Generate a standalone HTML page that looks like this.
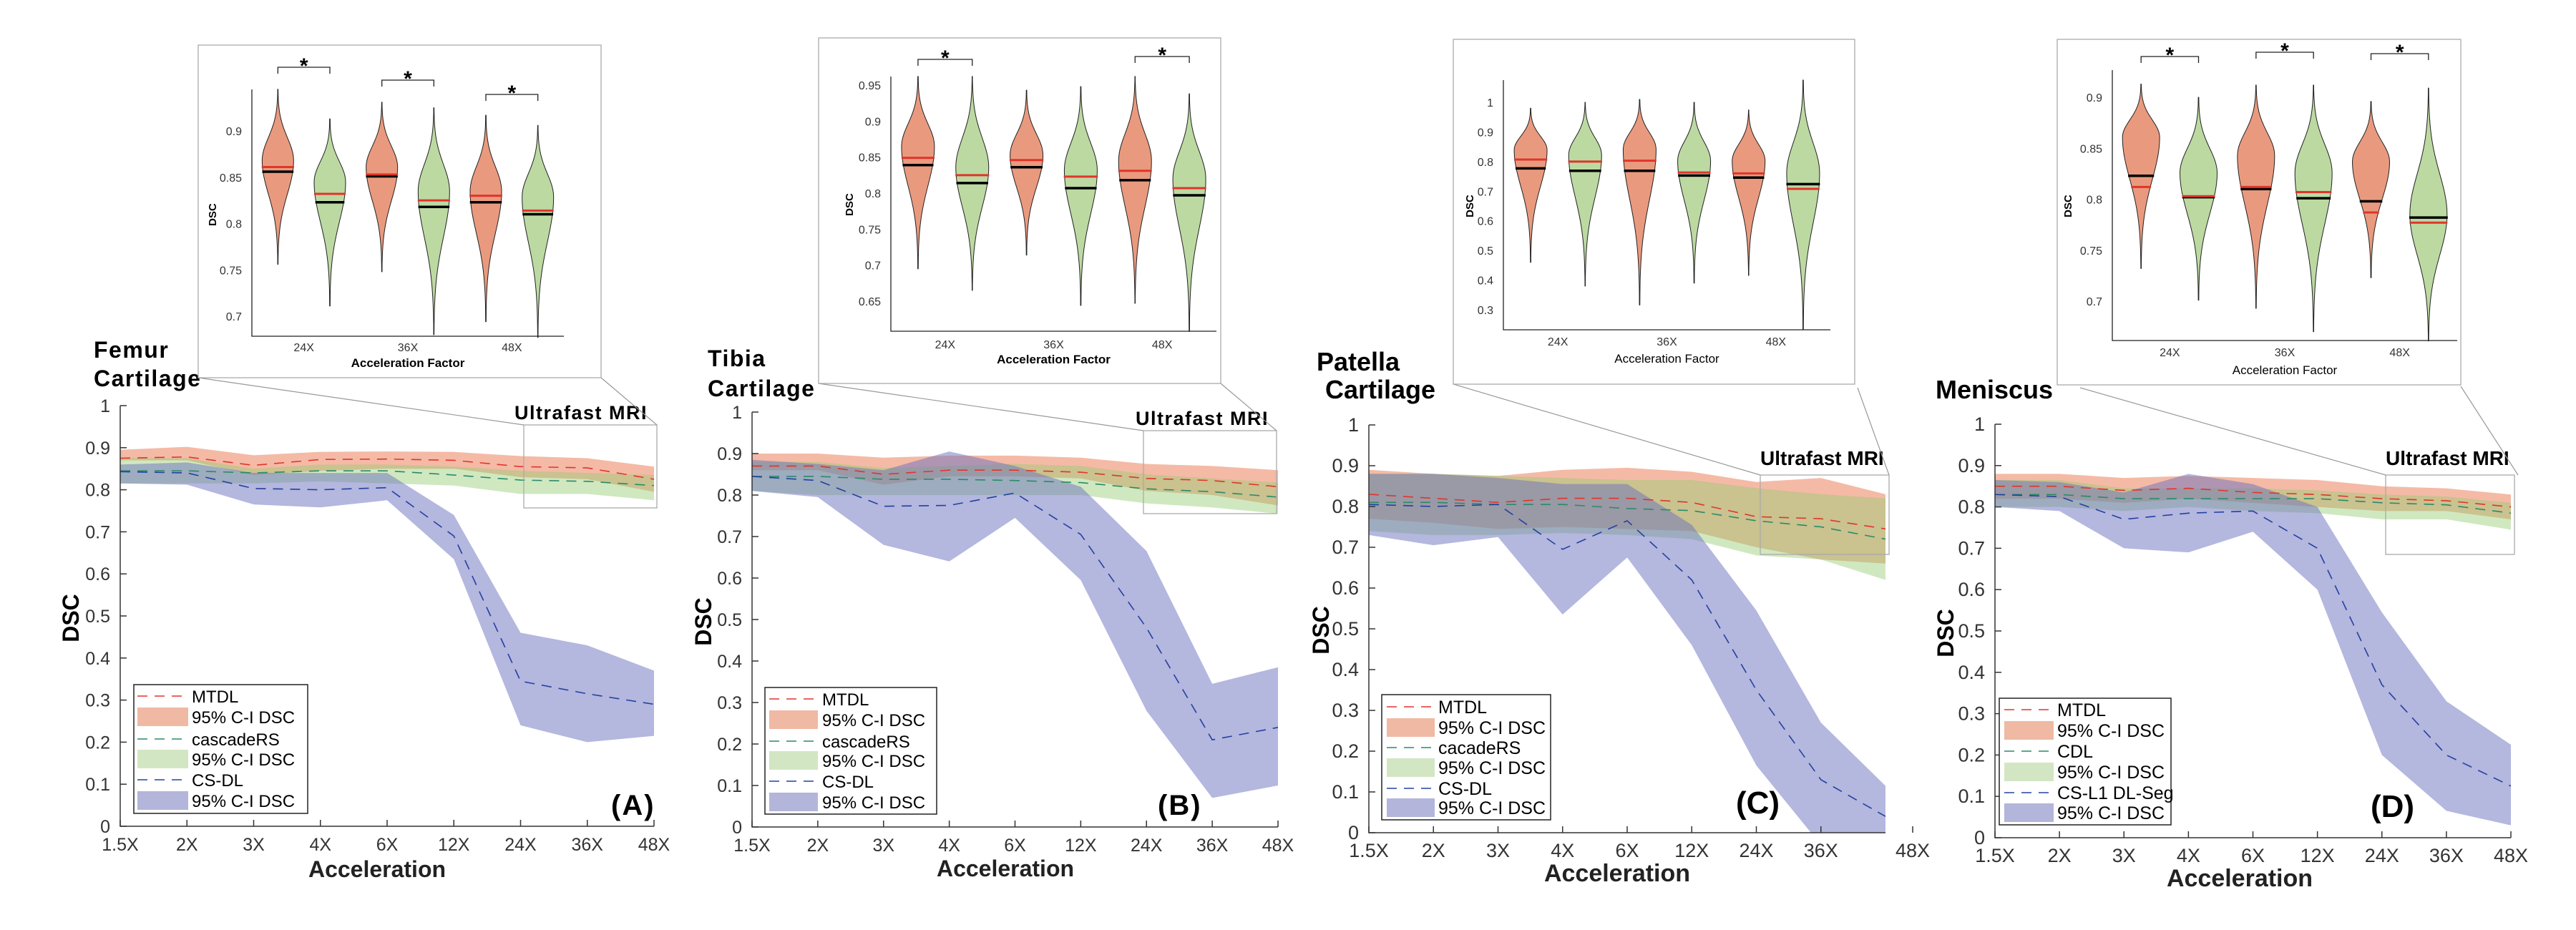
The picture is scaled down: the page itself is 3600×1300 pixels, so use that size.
<!DOCTYPE html>
<html><head><meta charset="utf-8"><style>
html,body{margin:0;padding:0;background:#fff}
svg{display:block}
text{font-family:"Liberation Sans",sans-serif}
.n text, text.n{font-family:"Liberation Sans Narrow","Liberation Sans",sans-serif}
</style></head>
<body>
<svg id="fig" xmlns="http://www.w3.org/2000/svg" width="3600" height="1300" viewBox="0 0 3600 1300"></svg>
<script>
// ---------- data ----------
const categories = ['1.5X','2X','3X','4X','6X','12X','24X','36X','48X'];
const yTickValues = [0,0.1,0.2,0.3,0.4,0.5,0.6,0.7,0.8,0.9,1];
const yTickLabels = ['0','0.1','0.2','0.3','0.4','0.5','0.6','0.7','0.8','0.9','1'];
const insetCategories = ['24X','36X','48X'];

// Femur
const femurMtdl   = [0.875,0.878,0.858,0.872,0.873,0.870,0.855,0.852,0.825];
const femurMtdlHi = [0.895,0.902,0.882,0.890,0.891,0.890,0.880,0.875,0.855];
const femurMtdlLo = [0.870,0.870,0.835,0.845,0.850,0.850,0.830,0.825,0.795];
const femurCasc   = [0.845,0.845,0.840,0.845,0.845,0.835,0.823,0.820,0.810];
const femurCascHi = [0.875,0.875,0.850,0.860,0.860,0.855,0.845,0.840,0.835];
const femurCascLo = [0.815,0.815,0.815,0.820,0.815,0.810,0.790,0.790,0.775];
const femurCs     = [0.843,0.840,0.803,0.800,0.805,0.690,0.345,0.315,0.290];
const femurCsHi   = [0.860,0.865,0.840,0.840,0.840,0.740,0.460,0.430,0.370];
const femurCsLo   = [0.815,0.812,0.765,0.758,0.775,0.635,0.240,0.200,0.215];
// Tibia
const tibiaMtdl   = [0.870,0.870,0.850,0.860,0.860,0.855,0.840,0.835,0.820];
const tibiaMtdlHi = [0.900,0.900,0.890,0.895,0.895,0.890,0.875,0.870,0.860];
const tibiaMtdlLo = [0.860,0.860,0.825,0.845,0.845,0.840,0.810,0.800,0.775];
const tibiaCasc   = [0.845,0.845,0.838,0.838,0.835,0.830,0.815,0.808,0.795];
const tibiaCascHi = [0.880,0.880,0.865,0.870,0.875,0.870,0.850,0.840,0.830];
const tibiaCascLo = [0.810,0.800,0.800,0.800,0.800,0.800,0.780,0.770,0.755];
const tibiaCs     = [0.845,0.835,0.773,0.775,0.805,0.705,0.480,0.210,0.240];
const tibiaCsHi   = [0.885,0.875,0.860,0.905,0.870,0.820,0.665,0.345,0.385];
const tibiaCsLo   = [0.810,0.795,0.680,0.640,0.745,0.595,0.280,0.070,0.100];
// Patella
const patellaMtdl   = [0.830,0.820,0.810,0.820,0.820,0.810,0.775,0.770,0.745];
const patellaMtdlHi = [0.890,0.880,0.875,0.890,0.895,0.885,0.860,0.870,0.830];
const patellaMtdlLo = [0.770,0.760,0.745,0.750,0.745,0.740,0.700,0.670,0.660];
const patellaCasc   = [0.810,0.810,0.805,0.805,0.795,0.790,0.765,0.750,0.720];
const patellaCascHi = [0.880,0.880,0.875,0.870,0.865,0.865,0.845,0.830,0.820];
const patellaCascLo = [0.740,0.730,0.730,0.735,0.730,0.720,0.680,0.670,0.620];
const patellaCs     = [0.805,0.800,0.805,0.695,0.765,0.620,0.350,0.130,0.040];
const patellaCsHi   = [0.880,0.880,0.870,0.855,0.855,0.755,0.545,0.270,0.115];
const patellaCsLo   = [0.730,0.705,0.725,0.535,0.675,0.460,0.165,-0.030,-0.050];
// Meniscus
const meniscusMtdl   = [0.850,0.850,0.840,0.845,0.835,0.830,0.820,0.815,0.800];
const meniscusMtdlHi = [0.880,0.880,0.870,0.875,0.870,0.865,0.850,0.845,0.830];
const meniscusMtdlLo = [0.820,0.820,0.810,0.820,0.810,0.800,0.790,0.790,0.770];
const meniscusCdl    = [0.830,0.830,0.820,0.820,0.820,0.820,0.810,0.805,0.785];
const meniscusCdlHi  = [0.865,0.865,0.845,0.845,0.845,0.840,0.830,0.825,0.810];
const meniscusCdlLo  = [0.800,0.800,0.790,0.800,0.790,0.785,0.770,0.770,0.745];
const meniscusCs     = [0.830,0.825,0.770,0.785,0.790,0.700,0.370,0.200,0.125];
const meniscusCsHi   = [0.865,0.860,0.835,0.880,0.855,0.800,0.545,0.330,0.225];
const meniscusCsLo   = [0.800,0.790,0.700,0.690,0.740,0.600,0.200,0.065,0.030];

// Inset violins (order: MTDL 24X, other 24X, MTDL 36X, other 36X, MTDL 48X, other 48X)
const femurVioMax    = [0.945,0.913,0.931,0.925,0.917,0.906];
const femurVioMin    = [0.756,0.711,0.748,0.680,0.694,0.677];
const femurVioMode   = [0.868,0.845,0.861,0.835,0.835,0.829];
const femurVioMean   = [0.861,0.832,0.853,0.825,0.830,0.814];
const femurVioMedian = [0.856,0.823,0.851,0.818,0.823,0.810];
const tibiaVioMax    = [0.962,0.962,0.943,0.948,0.962,0.938];
const tibiaVioMin    = [0.695,0.665,0.714,0.644,0.647,0.608];
const tibiaVioMode   = [0.865,0.836,0.853,0.832,0.845,0.820];
const tibiaVioMean   = [0.849,0.825,0.846,0.823,0.831,0.807];
const tibiaVioMedian = [0.839,0.814,0.836,0.807,0.818,0.797];
const patellaVioMax    = [0.980,1.000,1.010,1.000,0.974,1.075];
const patellaVioMin    = [0.460,0.380,0.316,0.390,0.416,0.233];
const patellaVioMode   = [0.840,0.823,0.843,0.803,0.803,0.762];
const patellaVioMean   = [0.807,0.800,0.803,0.763,0.760,0.708];
const patellaVioMedian = [0.777,0.769,0.769,0.753,0.746,0.724];
const meniscusVioMax    = [0.913,0.900,0.912,0.912,0.896,0.909];
const meniscusVioMin    = [0.732,0.701,0.693,0.670,0.723,0.661];
const meniscusVioMode   = [0.861,0.826,0.843,0.826,0.837,0.785];
const meniscusVioMean   = [0.812,0.803,0.812,0.807,0.787,0.777];
const meniscusVioMedian = [0.823,0.802,0.810,0.801,0.798,0.782];

// ---------- layout ----------
const panels = [
 {key:'femur', narrow:false, x0:168,x1:914,yb:1155,yt:567, axEnd:914, lastTick:914,
  title:['Femur','Cartilage'], tX:[131,131], tY:[500,540], tSize:32,
  letter:'(A)', lX:854, lY:1139, ylX:99, ylY:864, xlX:527, xlY:1226, ulX:719, ulY:586,
  zoom:[732,594,918,710], conn:[[277,528,732,594],[840,528,918,594]],
  names:['MTDL','cascadeRS','CS-DL'],
  d:[femurMtdl,femurMtdlHi,femurMtdlLo,femurCasc,femurCascHi,femurCascLo,femurCs,femurCsHi,femurCsLo],
  leg:{x:187,y:957,w:243,h:180,rows:[973,1002,1033,1061,1090,1119],sx:192,sw:71,tx:268,fs:24},
  ins:{bx:277,by:63,bw:563,bh:465,ax0:352,ax1:788,ayb:470,ayt:125,v1:0.7,p1:442,v2:0.9,p2:183,
   ticks:[0.7,0.75,0.8,0.85,0.9],tl:['0.7','0.75','0.8','0.85','0.9'],lbY:491,afY:513,dX:297,dY:300,hw:22,
   br:[[0,94],[1,112],[2,132]],
   v:[femurVioMax,femurVioMin,femurVioMode,femurVioMean,femurVioMedian]}},
 {key:'tibia', narrow:false, x0:1051,x1:1786,yb:1156,yt:576, axEnd:1786, lastTick:1786,
  title:['Tibia','Cartilage'], tX:[989,989], tY:[512,554], tSize:32,
  letter:'(B)', lX:1618, lY:1139, ylX:983, ylY:869, xlX:1405, xlY:1225, ulX:1587, ulY:594,
  zoom:[1598,602,1784,718], conn:[[1144,536,1598,602],[1706,536,1784,602]],
  names:['MTDL','cascadeRS','CS-DL'],
  d:[tibiaMtdl,tibiaMtdlHi,tibiaMtdlLo,tibiaCasc,tibiaCascHi,tibiaCascLo,tibiaCs,tibiaCsHi,tibiaCsLo],
  leg:{x:1069,y:961,w:240,h:177,rows:[977,1006,1036,1063,1092,1121],sx:1075,sw:68,tx:1149,fs:24},
  ins:{bx:1144,by:53,bw:562,bh:483,ax0:1245,ax1:1700,ayb:463,ayt:107,v1:0.65,p1:421,v2:0.95,p2:119,
   ticks:[0.65,0.7,0.75,0.8,0.85,0.9,0.95],tl:['0.65','0.7','0.75','0.8','0.85','0.9','0.95'],lbY:487,afY:508,dX:1187,dY:286,hw:23,
   br:[[0,83],[2,79]],
   v:[tibiaVioMax,tibiaVioMin,tibiaVioMode,tibiaVioMean,tibiaVioMedian]}},
 {key:'patella', narrow:true, x0:1913,x1:2635,yb:1164,yt:594, axEnd:2635, lastTick:2673,
  title:['Patella','Cartilage'], tX:[1840,1852], tY:[518,557], tSize:36,
  letter:'(C)', lX:2426, lY:1137, ylX:1846, ylY:881, xlX:2260, xlY:1232, ulX:2460, ulY:650,
  zoom:[2460,664,2640,775], conn:[[2031,537,2460,664],[2596,542,2640,664]],
  names:['MTDL','cacadeRS','CS-DL'],
  d:[patellaMtdl,patellaMtdlHi,patellaMtdlLo,patellaCasc,patellaCascHi,patellaCascLo,patellaCs,patellaCsHi,patellaCsLo],
  leg:{x:1931,y:971,w:236,h:175,rows:[988,1017,1045,1073,1102,1129],sx:1938,sw:67,tx:2010,fs:25},
  ins:{bx:2031,by:55,bw:561,bh:482,ax0:2101,ax1:2558,ayb:461,ayt:112,v1:0.3,p1:433,v2:1.0,p2:143,
   ticks:[0.3,0.4,0.5,0.6,0.7,0.8,0.9,1],tl:['0.3','0.4','0.5','0.6','0.7','0.8','0.9','1'],lbY:483,afY:507,dX:2054,dY:288,hw:23,
   br:[],
   v:[patellaVioMax,patellaVioMin,patellaVioMode,patellaVioMean,patellaVioMedian]}},
 {key:'meniscus', narrow:true, x0:2788,x1:3509,yb:1171,yt:593, axEnd:3509, lastTick:3509,
  title:['Meniscus'], tX:[2705], tY:[557], tSize:36,
  letter:'(D)', lX:3313, lY:1142, ylX:2719, ylY:885, xlX:3130, xlY:1239, ulX:3334, ulY:650,
  zoom:[3334,664,3514,775], conn:[[2907,542,3334,664],[3439,540,3519,664]],
  names:['MTDL','CDL','CS-L1 DL-Seg'],
  d:[meniscusMtdl,meniscusMtdlHi,meniscusMtdlLo,meniscusCdl,meniscusCdlHi,meniscusCdlLo,meniscusCs,meniscusCsHi,meniscusCsLo],
  leg:{x:2794,y:976,w:240,h:177,rows:[992,1021,1050,1079,1108,1136],sx:2801,sw:69,tx:2875,fs:25},
  ins:{bx:2875,by:55,bw:564,bh:483,ax0:2952,ax1:3434,ayb:476,ayt:98,v1:0.7,p1:421,v2:0.9,p2:136,
   ticks:[0.7,0.75,0.8,0.85,0.9],tl:['0.7','0.75','0.8','0.85','0.9'],lbY:498,afY:523,dX:2890,dY:288,hw:26,
   br:[[0,79],[1,73],[2,75]],
   v:[meniscusVioMax,meniscusVioMin,meniscusVioMode,meniscusVioMean,meniscusVioMedian]}}
];

const NS='http://www.w3.org/2000/svg';
const svg=document.getElementById('fig');
function mk(tag,attrs,parent,txt){const e=document.createElementNS(NS,tag);for(const k in attrs)e.setAttribute(k,attrs[k]);if(txt!==undefined)e.textContent=txt;(parent||svg).appendChild(e);return e;}
function tag(el,n){
  
  
}
const lineCols=['#e0352b','#2a8a6a','#2440a0'];
const bandCols=['rgba(232,110,70,0.48)','rgba(150,205,115,0.45)','rgba(105,112,190,0.5)'];
const legBand=['#f0b9a3','#d3e6c3','#b3b5da'];

panels.forEach(p=>{
  const g=mk('g',{class:p.narrow?'n':''});
  tag(g, p.key+'-panel');
  const xs=i=>p.x0+i*(p.x1-p.x0)/(categories.length-1);
  const ys=v=>p.yb-v*(p.yb-p.yt);
  const cp=mk('clipPath',{id:'clip-'+p.key},g);
  mk('rect',{x:p.x0,y:p.yt-40,width:p.x1-p.x0,height:p.yb-p.yt+40},cp);
  for(let s=0;s<3;s++){
    const hi=p.d[s*3+1],lo=p.d[s*3+2];
    let pts=hi.map((v,i)=>xs(i)+','+ys(v));
    pts=pts.concat(lo.map((v,i)=>xs(i)+','+ys(v)).reverse());
    const band=mk('polygon',{points:pts.join(' '),fill:bandCols[s],'clip-path':'url(#clip-'+p.key+')'},g);
    tag(band, p.key+'-'+p.names[s].toLowerCase().replace(/[^a-z0-9]+/g,'-')+'-ci-band');
  }
  for(let s=0;s<3;s++){
    const mid=p.d[s*3];
    const ln=mk('polyline',{points:mid.map((v,i)=>xs(i)+','+ys(v)).join(' '),fill:'none',stroke:lineCols[s],'stroke-width':1.6,'stroke-dasharray':'14 10','clip-path':'url(#clip-'+p.key+')'},g);
    tag(ln, p.key+'-'+p.names[s].toLowerCase().replace(/[^a-z0-9]+/g,'-')+'-line');
  }
  const ax=mk('path',{d:`M${p.x0},${p.yt} V${p.yb} H${p.axEnd}`,fill:'none',stroke:'#333','stroke-width':1.5},g);
  tag(ax, p.key+'-axes');
  yTickValues.forEach((v,i)=>{
    mk('line',{x1:p.x0,x2:p.x0+9,y1:ys(v),y2:ys(v),stroke:'#333','stroke-width':1.5},g);
    const t=mk('text',{x:p.x0-14,y:ys(v)+9,'text-anchor':'end','font-size':p.narrow?27:25,fill:'#333'},g,yTickLabels[i]);
    tag(t, p.key+'-y-tick-label');
  });
  categories.forEach((c,i)=>{
    const x=(i===categories.length-1)?p.lastTick:xs(i);
    mk('line',{x1:x,x2:x,y1:p.yb,y2:p.yb-9,stroke:'#333','stroke-width':1.5},g);
    const t=mk('text',{x:x,y:p.yb+34,'text-anchor':'middle','font-size':p.narrow?27:25,fill:'#333'},g,c);
    tag(t, p.key+'-x-tick-label');
  });
  let t=mk('text',{x:p.ylX,y:p.ylY,'text-anchor':'middle','font-size':32,'font-weight':'bold',transform:`rotate(-90 ${p.ylX} ${p.ylY})`,dy:11},g,'DSC');
  tag(t, p.key+'-y-axis-title');
  t=mk('text',{x:p.xlX,y:p.xlY,'text-anchor':'middle','font-size':p.narrow?34:32,'font-weight':'bold',fill:'#222'},g,'Acceleration');
  tag(t, p.key+'-x-axis-title');
  p.title.forEach((s,i)=>{
    const tt=mk('text',{x:p.tX[i],y:p.tY[i],'font-size':p.tSize,'font-weight':'bold','letter-spacing':p.narrow?0:1.5},g,s);
    tag(tt, p.key+'-panel-title');
  });
  t=mk('text',{x:p.lX,y:p.lY,'font-size':p.narrow?44:40,'font-weight':'bold','letter-spacing':p.narrow?0:2},g,p.letter);
  tag(t, p.key+'-panel-letter');
  t=mk('text',{x:p.ulX,y:p.ulY,'font-size':p.narrow?28:27,'font-weight':'bold','letter-spacing':p.narrow?0:1.5},g,'Ultrafast MRI');
  tag(t, p.key+'-ultrafast-label');
  const zb=mk('rect',{x:p.zoom[0],y:p.zoom[1],width:p.zoom[2]-p.zoom[0],height:p.zoom[3]-p.zoom[1],fill:'none',stroke:'#aaa','stroke-width':1.3},g);
  tag(zb, p.key+'-zoom-box');
  p.conn.forEach(c=>{
    const l=mk('line',{x1:c[0],y1:c[1],x2:c[2],y2:c[3],stroke:'#999','stroke-width':1.2},g);
    tag(l, p.key+'-zoom-connector');
  });
  const L=p.leg;
  const lb=mk('rect',{x:L.x,y:L.y,width:L.w,height:L.h,fill:'#fff',stroke:'#222','stroke-width':1.5},g);
  tag(lb, p.key+'-legend-box');
  for(let s=0;s<3;s++){
    const ry=L.rows[s*2], by=L.rows[s*2+1];
    const sl=mk('line',{x1:L.sx,x2:L.sx+L.sw,y1:ry,y2:ry,stroke:lineCols[s],'stroke-width':1.5,'stroke-dasharray':'14 10'},g);
    tag(sl, p.key+'-legend-line-swatch');
    const st=mk('text',{x:L.tx,y:ry+9,'font-size':L.fs},g,p.names[s]);
    tag(st, p.key+'-legend-entry');
    const sr=mk('rect',{x:L.sx,y:by-13,width:L.sw,height:26,fill:legBand[s]},g);
    tag(sr, p.key+'-legend-band-swatch');
    const bt=mk('text',{x:L.tx,y:by+9,'font-size':L.fs},g,'95% C-I DSC');
    tag(bt, p.key+'-legend-entry');
  }
  const I=p.ins;
  const ib=mk('rect',{x:I.bx,y:I.by,width:I.bw,height:I.bh,fill:'#fff',stroke:'#aaa','stroke-width':1.3},g);
  tag(ib, p.key+'-inset-frame');
  const iy=v=>I.p1-(v-I.v1)*(I.p1-I.p2)/(I.v2-I.v1);
  const step=(I.ax1-I.ax0)/6;
  const ia=mk('path',{d:`M${I.ax0},${I.ayt} V${I.ayb} H${I.ax1}`,fill:'none',stroke:'#222','stroke-width':1.3},g);
  tag(ia, p.key+'-inset-axes');
  I.ticks.forEach((v,i)=>{
    const tt=mk('text',{x:I.ax0-14,y:iy(v)+6,'text-anchor':'end','font-size':16,fill:'#333'},g,I.tl[i]);
    tag(tt, p.key+'-inset-y-tick-label');
  });
  insetCategories.forEach((c,i)=>{
    const tt=mk('text',{x:I.ax0+(2*i+1)*step,y:I.lbY,'text-anchor':'middle','font-size':16,fill:'#333'},g,c);
    tag(tt, p.key+'-inset-x-tick-label');
  });
  t=mk('text',{x:(I.ax0+I.ax1)/2,y:I.afY,'text-anchor':'middle','font-size':17,'font-weight':p.narrow?'normal':'bold'},g,'Acceleration Factor');
  tag(t, p.key+'-inset-x-axis-title');
  t=mk('text',{x:I.dX,y:I.dY,'text-anchor':'middle','font-size':15,'font-weight':'bold',transform:`rotate(-90 ${I.dX} ${I.dY})`,dy:5},g,'DSC');
  tag(t, p.key+'-inset-y-axis-title');
  const [vMax,vMin,vMode,vMean,vMed]=I.v;
  for(let k=0;k<6;k++){
    const cx=I.ax0+(k+0.5)*step;
    const sU=(vMax[k]-vMode[k])/2.2, sD=(vMode[k]-vMin[k])/2.2;
    const wAt=v=>{const s=v>vMode[k]?sU:sD;return I.hw*Math.exp(-Math.pow((v-vMode[k])/s,2));};
    const ln=mk('line',{x1:cx,x2:cx,y1:iy(vMin[k]),y2:iy(vMax[k]),stroke:'#111','stroke-width':1.5},g);
    tag(ln, p.key+'-violin-whisker');
    const N=50, L1=[],R1=[];
    for(let j=0;j<=N;j++){const v=vMin[k]+(vMax[k]-vMin[k])*j/N;const w=wAt(v);L1.push((cx-w)+','+iy(v));R1.push((cx+w)+','+iy(v));}
    const vp=mk('polygon',{points:L1.concat(R1.reverse()).join(' '),fill:k%2?'#bcd9a2':'#e99a7e',stroke:'#222','stroke-width':1},g);
    tag(vp, p.key+'-violin-'+insetCategories[Math.floor(k/2)]+(k%2?'-comparison':'-mtdl'));
    const wm=wAt(vMed[k])+1;
    const md=mk('line',{x1:cx-wm,x2:cx+wm,y1:iy(vMed[k]),y2:iy(vMed[k]),stroke:'#000','stroke-width':3.5},g);
    tag(md, p.key+'-violin-median');
    const wn=wAt(vMean[k])+1;
    const mn=mk('line',{x1:cx-wn,x2:cx+wn,y1:iy(vMean[k]),y2:iy(vMean[k]),stroke:'#e0352b','stroke-width':3},g);
    tag(mn, p.key+'-violin-mean');
  }
  I.br.forEach(b=>{
    const xa=I.ax0+(2*b[0]+0.5)*step, xb=I.ax0+(2*b[0]+1.5)*step;
    const bp=mk('path',{d:`M${xa},${b[1]+9} V${b[1]} H${xb} V${b[1]+9}`,fill:'none',stroke:'#222','stroke-width':1.3},g);
    tag(bp, p.key+'-significance-bracket');
    const st=mk('text',{x:(xa+xb)/2,y:b[1]+8,'text-anchor':'middle','font-size':30,'font-weight':'bold'},g,'*');
    tag(st, p.key+'-significance-star');
  });
});
</script>
</body></html>
